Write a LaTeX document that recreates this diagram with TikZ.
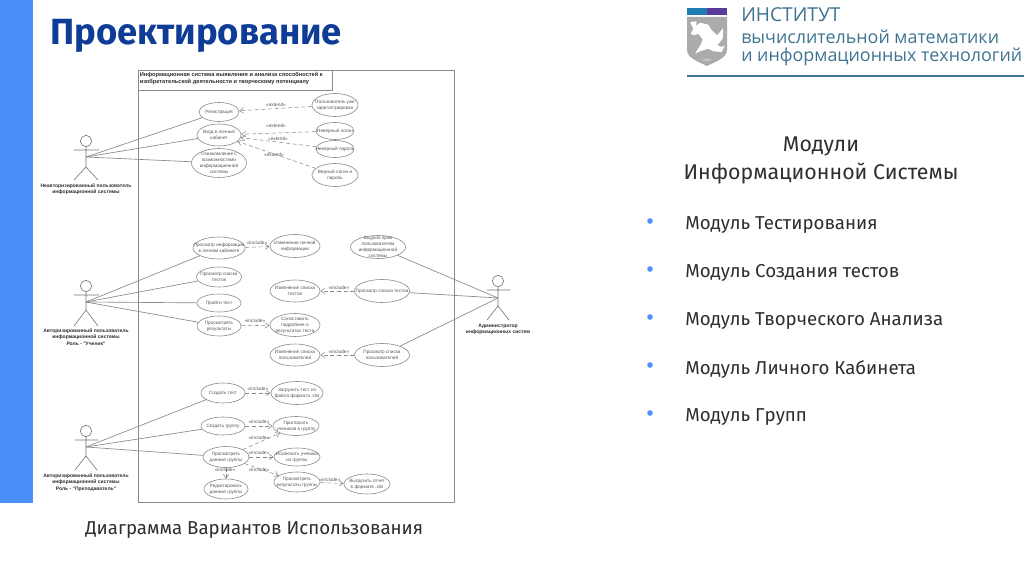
\documentclass[tikz,border=0pt]{standalone}
\usepackage{fontspec}
\setmainfont{Fira Sans}
\newfontfamily\lib{Liberation Sans}
\newfontfamily\logof{Open Sans}
\usetikzlibrary{shapes.geometric,arrows.meta}
\definecolor{navy}{HTML}{0F3C96}
\definecolor{barblue}{HTML}{4B8FFB}
\definecolor{ink}{HTML}{2E2E2E}
\definecolor{ln}{HTML}{8A8A8A}
\definecolor{umltxt}{HTML}{555555}
\definecolor{logotxt}{HTML}{3E7391}
\definecolor{stripa}{HTML}{1F7DB5}
\definecolor{stripb}{HTML}{5A3A9A}
\tikzset{
  ucshape/.style={ellipse,draw=ln,line width=.45pt,inner sep=0pt,fill=white},
  uctext/.style={font=\lib\fontsize{3.5}{4.4}\selectfont,text=umltxt,align=center,inner sep=0pt},
  actorlab/.style={font=\lib\bfseries\fontsize{3.75}{4.7}\selectfont,text=ink,align=center,inner sep=0pt},
  stereo/.style={font=\lib\fontsize{3.6}{4.2}\selectfont,text=umltxt,inner sep=0pt},
  assoc/.style={draw=ln,line width=.5pt},
  dep/.style={draw=ln,line width=.4pt,densely dashed,-{Straight Barb[length=3pt,width=4pt]}},
  body/.style={draw=ln!85!black,line width=.45pt},
  frame/.style={draw=ln,line width=.6pt},
  slidebody/.style={font=\fontsize{14}{16}\selectfont,text=ink,anchor=west,inner sep=0pt},
  bulletmark/.style={circle,fill=barblue,inner sep=0pt,minimum size=4.2pt},
  logoline/.style={font=\logof\fontsize{13.4}{16}\selectfont,text=logotxt,anchor=west,inner sep=0pt},
}
\newcommand{\uc}[6]{%
  \node[ucshape,minimum width=#4*0.75pt,minimum height=#5*0.75pt] (#1) at (#2,#3) {};
  \node[uctext] (#1-t) at (#2,#3) {#6};}
\newcommand{\actorfig}[8]{% name, x, yhead, yarms, yjoin, ysplit, yfeet, halfspan
  \node[circle,draw=ln!85!black,line width=.45pt,minimum size=8.5pt,inner sep=0pt] (#1h) at (#2,#3) {};
  \coordinate (#1j) at (#2,#5);
  \coordinate (#1s) at (#2,#6);
  \coordinate (#1l) at ({#2-#8},#7);
  \coordinate (#1r) at ({#2+#8},#7);
  \coordinate (#1al) at ({#2-#8},#4);
  \coordinate (#1ar) at ({#2+#8+1},#4);
  \draw[body] (#1h) -- (#1s) (#1al) -- (#1ar) (#1l) -- (#1s) -- (#1r);}
\begin{document}
\begin{tikzpicture}[x=0.75pt,y=-0.75pt]
\useasboundingbox (0,0) rectangle (1024,574);
\fill[white] (0,0) rectangle (1024,574);
\fill[barblue] (0,0) rectangle (33,503);
\node[font=\bfseries\fontsize{27.3}{30}\selectfont,text=navy,anchor=west,inner sep=0pt] (title) at (50,36) {Проектирование};

% logo
\fill[stripa] (687,8) rectangle (707,15);
\fill[stripb] (707,8) rectangle (727,15);
\fill[black!33] (687,17) -- (727,17) -- (727,50) .. controls (727,58) and (715,62) .. (707,66) .. controls (699,62) and (687,58) .. (687,50) -- cycle;
\fill[white,rounded corners=.5pt] (690,22) -- (696.7,21.3) -- (696,26) -- (700,22.7) -- (708.3,24.7) -- (711.7,30.3) -- (717.3,35.3) -- (723.3,28) -- (722.7,38.7) -- (717.3,45.3) -- (721.7,47) -- (725,45.3) -- (721.7,52) -- (713.3,51.3) -- (708.3,48.7) -- (700,51.3) -- (695,53.7) -- (700.7,44.7) -- (702.7,39.3) -- (698.3,33.7) -- (694,35.3) -- (690.7,33.7) -- (693.3,28.7) -- cycle;
\node[font=\lib\fontsize{2.6}{3}\selectfont,text=white,inner sep=0pt] (logoyear) at (707,60) {1804};
\node[logoline,font=\logof\fontsize{14.4}{17}\selectfont] (logo1) at (741,14.5) {ИНСТИТУТ};
\node[logoline] (logo2) at (741,36.5) {вычислительной математики};
\node[logoline] (logo3) at (741,56.5) {и информационных технологий};
\draw[logotxt,line width=1.3pt] (687,76) -- (1024,76);

% system frame
\draw[frame] (138,70) rectangle (454,502);
\draw[frame] (138,90) -- (332,90) -- (332,70);
\node[font=\lib\bfseries\fontsize{4.25}{5.6}\selectfont,text=ink,align=left,anchor=north west,inner sep=0pt] (systitle) at (139.5,72) {Информационная система выявления и анализа способностей к\\изобретательской деятельности и творческому потенциалу};

% actors
\actorfig{aa}{86}{141}{150}{157}{167}{180}{12}
\actorfig{ab}{86}{286}{295}{302}{310}{326}{12}
\actorfig{ac}{86}{431}{440}{447}{456}{470}{11}
\actorfig{ad}{498}{281}{290}{298}{306}{320}{11}
\node[actorlab] (aalab) at (86,189.5) {Неавторизированный пользователь\\информационной системы};
\node[actorlab] (ablab) at (86,337) {Авторизированный пользователь\\информационной системы\\Роль - "Ученик"};
\node[actorlab] (aclab) at (86,482.5) {Авторизированный пользователь\\информационной системы\\Роль - "Преподаватель"};
\node[actorlab] (adlab) at (498,329) {Администратор\\информационных систем};

% use cases top
\uc{reg}{219}{112}{40}{19}{Регистрация}
\uc{login}{219}{135}{44}{22}{Вход в личный\\кабинет}
\uc{learn}{219}{163}{55}{29}{Ознакомление с\\возможностями\\информационной\\системы}
\uc{exists}{335}{105}{46}{23}{Пользователь уже\\зарегистрирован}
\uc{badlogin}{335}{131}{38}{17}{Неверный логин}
\uc{badpass}{335}{149}{38}{17}{Неверный пароль}
\uc{goodpass}{335}{175}{46}{23}{Верный логин и\\пароль}

% use cases middle
\uc{viewinfo}{219}{248}{52}{22}{Просмотр информации\\в личном кабинете}
\uc{editinfo}{295}{246}{50}{23}{Изменение личной\\информации}
\uc{listtests}{219}{277}{45}{20}{Просмотр списка\\тестов}
\uc{taketest}{219}{303}{44}{18}{Пройти тест}
\uc{results}{219}{326}{44}{20}{Просмотреть\\результаты}
\uc{edittests}{295}{291}{50}{22}{Изменение списка\\тестов}
\uc{details}{295}{325}{50}{23}{Сопоставить\\подробнее о\\результатах теста}
\uc{editusers}{295}{355}{50}{22}{Изменение списка\\пользователей}
\uc{rights}{378}{247}{55}{23}{Выдача прав\\пользователям\\информационной\\системы}
\uc{admtests}{382}{291}{55}{23}{Просмотр списка тестов}
\uc{admusers}{382}{355}{55}{23}{Просмотр списка\\пользователей}

% use cases bottom
\uc{create}{223}{393}{44}{20}{Создать тест}
\uc{upload}{297}{393}{52}{23}{Загрузить тест из\\файла формата .xlsl}
\uc{group}{223}{426}{44}{18}{Создать группу}
\uc{invite}{296}{426}{46}{19}{Пригласить\\учеников в группу}
\uc{groupdata}{226}{457}{46}{21}{Просмотреть\\данные группы}
\uc{exclude}{297}{457}{46}{18}{Исключить ученика\\из группы}
\uc{editgroup}{226}{489}{44}{20}{Редактировать\\данные группы}
\uc{groupres}{297}{482}{46}{20}{Просмотреть\\результаты группы}
\uc{export}{367}{484}{46}{20}{Выгрузить отчет\\в формате .xlsl}

% associations
\foreach \t in {reg,login,learn} \draw[assoc] (aaj) -- (\t);
\foreach \t in {viewinfo,listtests,taketest,results} \draw[assoc] (abj) -- (\t);
\foreach \t in {create,group,groupdata} \draw[assoc] (acj) -- (\t);
\foreach \t in {rights,admtests,admusers} \draw[assoc] (adj) -- (\t);

% dependencies
\draw[dep] (exists) -- (reg);
\draw[dep] (badlogin) -- (login);
\draw[dep] (badpass) -- (login);
\draw[dep] (goodpass) -- (login);
\draw[dep] (viewinfo) -- (editinfo);
\draw[dep] (results) -- (details);
\draw[dep] (admtests) -- (edittests);
\draw[dep] (admusers) -- (editusers);
\draw[dep] (create) -- (upload);
\draw[dep] (group) -- (invite);
\draw[dep] (groupdata) -- (invite);
\draw[dep] (groupdata) -- (exclude);
\draw[dep] (groupdata) -- (editgroup);
\draw[dep] (groupdata) -- (groupres);
\draw[dep] (groupres) -- (export);

% stereotypes
\node[stereo] (s1) at (276,105) {«extend»};
\node[stereo] (s2) at (276,126) {«extend»};
\node[stereo] (s3) at (278,139) {«extend»};
\node[stereo] (s4) at (274,155) {«extend»};
\node[stereo] (s5) at (257,243) {«include»};
\node[stereo] (s6) at (255,321) {«include»};
\node[stereo] (s7) at (339,288) {«include»};
\node[stereo] (s8) at (339,352) {«include»};
\node[stereo] (s9) at (258,389) {«include»};
\node[stereo] (s10) at (259,422) {«include»};
\node[stereo] (s11) at (259,438) {«include»};
\node[stereo] (s12) at (259,453) {«include»};
\node[stereo] (s13) at (225,470) {«include»};
\node[stereo] (s14) at (259,470) {«include»};
\node[stereo] (s15) at (330,480) {«include»};

% caption
\node[slidebody] (caption) at (85,530.5) {Диаграмма Вариантов Использования};

% right column
\node[font=\fontsize{16}{21}\selectfont,text=ink,align=center,inner sep=0pt] (modhead) at (821,160) {Модули\\Информационной Системы};
\node[bulletmark] (b1) at (650,221) {};
\node[bulletmark] (b2) at (650,269) {};
\node[bulletmark] (b3) at (650,317) {};
\node[bulletmark] (b4) at (650,365) {};
\node[bulletmark] (b5) at (650,413) {};
\node[slidebody] (m1) at (685,225) {Модуль Тестирования};
\node[slidebody] (m2) at (685,273) {Модуль Создания тестов};
\node[slidebody] (m3) at (685,321) {Модуль Творческого Анализа};
\node[slidebody] (m4) at (685,369) {Модуль Личного Кабинета};
\node[slidebody] (m5) at (685,417) {Модуль Групп};
\end{tikzpicture}
\end{document}
